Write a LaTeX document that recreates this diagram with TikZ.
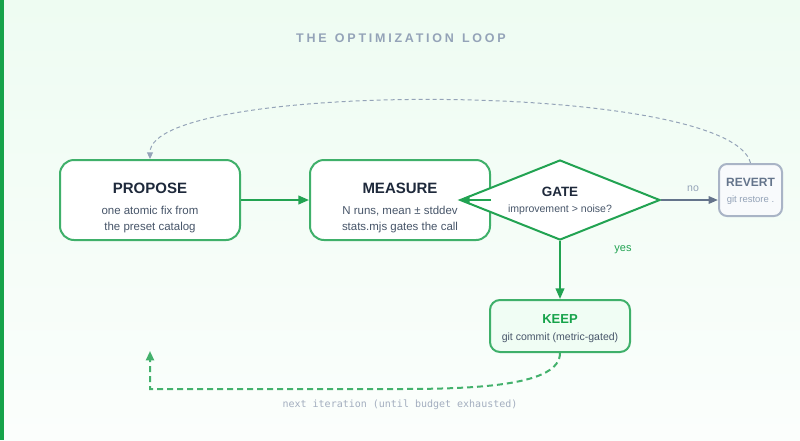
\documentclass[tikz,border=0pt]{standalone}
\usepackage{fontspec}
\setmainfont{Liberation Sans}
\newfontfamily\monofont{DejaVu Sans Mono}
\newfontfamily\titlefont[LetterSpace=22]{Liberation Sans}
\usetikzlibrary{shapes.geometric,arrows.meta,calc}
\definecolor{gbar}{HTML}{16A34A}
\definecolor{bgtop}{HTML}{EEFCF2}
\definecolor{bgbot}{HTML}{FBFEFC}
\definecolor{boxgreen}{HTML}{3FB06A}
\definecolor{linegreen}{HTML}{22A352}
\definecolor{keepgreen}{HTML}{16A34A}
\definecolor{keepfill}{HTML}{F0FDF4}
\definecolor{darktext}{HTML}{1E293B}
\definecolor{subtext}{HTML}{475569}
\definecolor{slate}{HTML}{64748B}
\definecolor{lightslate}{HTML}{94A3B8}
\definecolor{revstroke}{HTML}{A9B4C6}
\definecolor{revfill}{HTML}{F8FAFC}
\definecolor{monogray}{HTML}{A3AEBF}
\tikzset{
  box/.style={draw=boxgreen, line width=1.5pt, rounded corners=10.5pt, fill=white,
    minimum width=135pt, minimum height=60pt, inner sep=0pt},
  keepbox/.style={draw=boxgreen, line width=1.5pt, rounded corners=7.5pt, fill=keepfill,
    minimum width=105pt, minimum height=39pt, inner sep=0pt},
  revertbox/.style={draw=revstroke, line width=1.5pt, rounded corners=6pt, fill=revfill,
    minimum width=47.25pt, minimum height=39pt, inner sep=0pt},
  gatebox/.style={diamond, draw=linegreen, line width=1.5pt, fill=white,
    minimum width=150pt, minimum height=60pt, inner sep=0pt},
  boxtitle/.style={anchor=base, inner sep=0pt, text=darktext, font=\fontsize{11.25pt}{13pt}\selectfont\bfseries},
  boxsub/.style={anchor=base, inner sep=0pt, text=subtext, font=\fontsize{8.6pt}{10pt}\selectfont},
  garrow/.style={draw=linegreen, line width=1.5pt, -{Triangle[length=8pt,width=6.5pt]}},
  grayarrow/.style={draw=slate, line width=1.5pt, -{Triangle[length=7pt,width=5.5pt]}},
  topdash/.style={draw=lightslate, line width=0.75pt, dash pattern=on 3pt off 2.25pt,
    -{Triangle[length=5pt,width=4.5pt]}},
  gdash/.style={draw=linegreen!85!white, line width=1.5pt, dash pattern=on 4.5pt off 3pt,
    -{Triangle[length=7pt,width=6pt]}},
}
\begin{document}
\begin{tikzpicture}[x=0.75pt,y=-0.75pt]
\useasboundingbox (0,0) rectangle (800,440);
\fill[top color=bgtop, bottom color=bgbot] (0,0) rectangle (800,440);
\fill[gbar] (0,0) rectangle (4,440);

\node[anchor=base, inner sep=0pt, text=lightslate, font=\titlefont\fontsize{9.375pt}{11pt}\selectfont\bfseries] (title) at (401,42) {THE\hspace{1.5pt} OPTIMIZATION\hspace{1.5pt} LOOP};

% boxes
\node[box] (propose) at (150,200) {};
\node[box] (measure) at (400,200) {};
\node[gatebox] (gate) at (560,200) {};
\node[revertbox] (revert) at (750.5,190) {};
\node[keepbox] (keep) at (560,326) {};

% texts
\node[boxtitle] (proposeT) at (150,193) {PROPOSE};
\node[boxsub] (proposeS1) at (150,214) {one atomic fix from};
\node[boxsub] (proposeS2) at (150,230) {the preset catalog};

\node[boxtitle] (measureT) at (400,193) {MEASURE};
\node[boxsub] (measureS1) at (400,214) {N runs, mean ± stddev};
\node[boxsub] (measureS2) at (400,230) {stats.mjs gates the call};

\node[anchor=base, inner sep=0pt, text=darktext, font=\fontsize{10.1pt}{12pt}\selectfont\bfseries] (gateT) at (560,196) {GATE};
\node[anchor=base, inner sep=0pt, text=subtext, font=\fontsize{7.9pt}{9pt}\selectfont] (gateS) at (560,212.3) {improvement > noise?};

\node[anchor=base, inner sep=0pt, text=slate, font=\fontsize{9pt}{11pt}\selectfont\bfseries] (revertT) at (750.5,186.7) {REVERT};
\node[anchor=base, inner sep=0pt, text=lightslate, font=\fontsize{7.1pt}{9pt}\selectfont] (revertS) at (750.5,202.7) {git restore .};

\node[anchor=base, inner sep=0pt, text=keepgreen, font=\fontsize{9.75pt}{11pt}\selectfont\bfseries] (keepT) at (560,323) {KEEP};
\node[anchor=base, inner sep=0pt, text=subtext, font=\fontsize{7.9pt}{9pt}\selectfont] (keepS) at (560,340.7) {git commit (metric-gated)};

% connectors
\draw[garrow] (propose.east) -- (measure.west);
\draw[garrow] (measure.east) -- (gate.west);
\draw[grayarrow] (gate.east) -- (gate.east -| revert.west);
\node[anchor=base, inner sep=0pt, text=lightslate, font=\fontsize{7.9pt}{9pt}\selectfont] (nolbl) at (693,191.7) {no};
\draw[garrow] (gate.south) -- (keep.north);
\node[anchor=base, inner sep=0pt, text=linegreen, font=\fontsize{8.25pt}{9pt}\selectfont] (yeslbl) at (623,251) {yes};

\draw[topdash] (revert.north) .. controls (730,80) and (150,80) .. (propose.north);

\coordinate (loopend) at (150,351);
\draw[gdash] (keep.south) .. controls (560,385) and (480,389) .. (400,389) -- (150,389) -- (loopend);
\node[anchor=base, inner sep=0pt, text=monogray, font=\monofont\fontsize{7.5pt}{9pt}\selectfont] (looplbl) at (400,407.7) {next iteration (until budget exhausted)};
\end{tikzpicture}
\end{document}
